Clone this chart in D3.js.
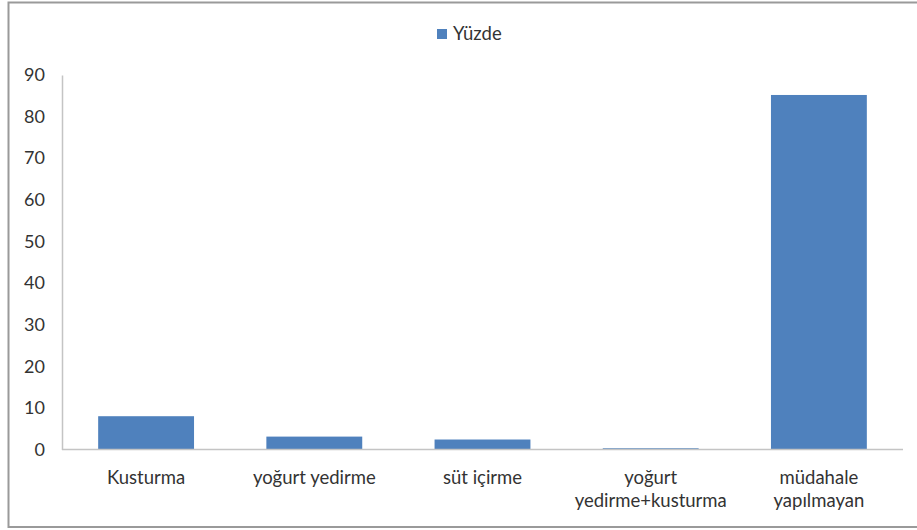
<!DOCTYPE html>
<html>
<head>
<meta charset="utf-8">
<script src="https://cdn.jsdelivr.net/npm/d3@7"></script>
<style>
  html, body { margin: 0; padding: 0; background: #fff; }
  svg { display: block; }
  text { font-family: Lato, "Open Sans", sans-serif; fill: #333; }
</style>
</head>
<body>
<script>
// Categories and series values (percent)
const categories = ["Kusturma", "yoğurt yedirme", "süt içirme", "yoğurt\nyedirme+kusturma", "müdahale\nyapılmayan"];
const values = [8, 3.1, 2.4, 0.3, 85.2];
const seriesName = "Yüzde";
const yTicks = [0, 10, 20, 30, 40, 50, 60, 70, 80, 90];

const W = 917, H = 530;

const svg = d3.select("body").append("svg").attr("width", W).attr("height", H);

// outer frame
svg.append("rect")
  .attr("x", 8.5).attr("y", 2.5).attr("width", W - 6).attr("height", 524.5)
  .attr("fill", "none").attr("stroke", "#9a9a9a").attr("stroke-width", 2);

const x = d3.scaleBand().domain(categories).range([62, 903]).paddingInner(0.43).paddingOuter(0.215);
const y = d3.scaleLinear().domain([0, 90]).range([449.5, 75]);

// y axis
const yAxis = svg.append("g").attr("transform", "translate(62,0)")
  .call(d3.axisLeft(y).tickValues(yTicks).tickSize(0).tickPadding(17));
yAxis.select(".domain").attr("stroke", "#c4c4c4").attr("stroke-width", 1.5);
yAxis.selectAll("text").style("font-size", "18px").attr("fill", "#333");

// bars
svg.append("g").selectAll("rect").data(values).join("rect")
  .attr("x", (d, i) => x(categories[i]))
  .attr("width", x.bandwidth())
  .attr("y", d => y(d))
  .attr("height", d => y(0) - y(d))
  .attr("fill", "#4f81bd");

// x axis baseline
svg.append("line")
  .attr("x1", 62).attr("x2", 903).attr("y1", y(0)).attr("y2", y(0))
  .attr("stroke", "#c4c4c4").attr("stroke-width", 1.5);

// category labels
const lbl = svg.append("g").selectAll("text").data(categories).join("text")
  .attr("text-anchor", "middle")
  .style("font-size", "18.5px")
  .attr("transform", d => `translate(${x(d) + x.bandwidth() / 2},484)`);
lbl.selectAll("tspan").data(d => d.split("\n")).join("tspan")
  .attr("x", 0).attr("dy", (d, i) => i === 0 ? 0 : 23)
  .text(d => d);

// legend
const lg = svg.append("g").attr("transform", "translate(437,29)");
lg.append("rect").attr("width", 10).attr("height", 10).attr("fill", "#4f81bd");
lg.append("text").attr("x", 16).attr("y", 11).style("font-size", "18.5px").text(seriesName);
</script>
</body>
</html>
